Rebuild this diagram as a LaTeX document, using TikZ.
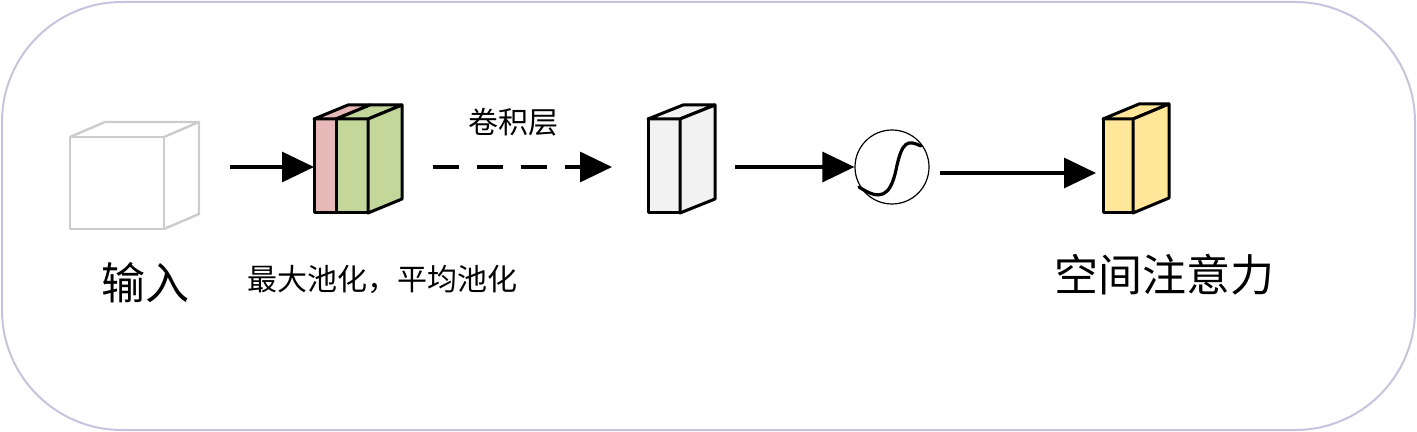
\documentclass[tikz,border=0pt]{standalone}
\usepackage{fontspec}
\newfontfamily\cjk{Noto Sans CJK SC}
\usetikzlibrary{arrows.meta}
\definecolor{framec}{HTML}{C9C2DD}
\definecolor{cubec}{HTML}{CCCCCC}
\definecolor{pinkc}{HTML}{E6B8B7}
\definecolor{greenc}{HTML}{C4D79B}
\definecolor{whitec}{HTML}{F2F2F2}
\definecolor{yellowc}{HTML}{FFE699}
\tikzset{
  blockline/.style={draw=black,line width=1.5pt,line join=round},
  flow/.style={line width=1.6pt,-{Triangle[length=16pt,width=15pt]}},
  lbl/.style={font=\cjk, inner sep=0pt},
}
\begin{document}
\begin{tikzpicture}[x=0.5pt,y=-0.5pt]
\useasboundingbox (0,0) rectangle (1417,432);
% frame
\draw[framec,line width=1pt,rounded corners=60pt] (2,2) rectangle (1415,430);
% input cube
\begin{scope}[cubec,line width=1.2pt,line join=round]
\draw (70,137) rectangle (164,229);
\draw (70,137) -- (105,122) -- (199,122) -- (164,137);
\draw (199,122) -- (199,214) -- (164,229);
\end{scope}
\coordinate (cubeE) at (230,167);
% pooling blocks
\filldraw[fill=pinkc,blockline] (314,119) rectangle (336,213);
\filldraw[fill=pinkc,blockline] (314,119) -- (348,105) -- (370,105) -- (336,119) -- cycle;
\filldraw[fill=greenc,blockline] (336,119) rectangle (368,213);
\filldraw[fill=greenc,blockline] (336,119) -- (370,105) -- (402,105) -- (368,119) -- cycle;
\filldraw[fill=greenc,blockline] (368,119) -- (402,105) -- (402,199) -- (368,213) -- cycle;
\coordinate (poolW) at (314,167);
\coordinate (poolE) at (433,167);
% conv output block
\filldraw[fill=whitec,blockline] (648,119) rectangle (680,213);
\filldraw[fill=whitec,blockline] (648,119) -- (683,105) -- (715,105) -- (680,119) -- cycle;
\filldraw[fill=whitec,blockline] (680,119) -- (715,105) -- (715,199) -- (680,213) -- cycle;
\coordinate (convW) at (612,167);
\coordinate (convE) at (735,167);
% sigmoid
\node[draw=black,line width=0.6pt,circle,minimum size=37pt,inner sep=0pt] (sig) at (892,167) {};
\draw[line width=1.6pt,line cap=round] (859,187) .. controls (880,201) and (890,197) .. (896,170)
  .. controls (902,140) and (908,140) .. (921,146);
\coordinate (sigE) at (940,173);
% yellow block
\filldraw[fill=yellowc,blockline] (1103,119) rectangle (1133,213);
\filldraw[fill=yellowc,blockline] (1103,119) -- (1139,104) -- (1169,104) -- (1133,119) -- cycle;
\filldraw[fill=yellowc,blockline] (1133,119) -- (1169,104) -- (1169,198) -- (1133,213) -- cycle;
\coordinate (yelW) at (1096,173);
% arrows
\draw[flow] (cubeE) -- (poolW);
\draw[flow,dash pattern=on 13pt off 9pt] (poolE) -- (convW);
\draw[flow] (convE) -- (sig.west);
\draw[flow] (sigE) -- (yelW);
% labels
\node[lbl,font=\cjk\fontsize{22pt}{24pt}\selectfont] (tin) at (145,283) {输入};
\node[lbl,font=\cjk\fontsize{15pt}{17pt}\selectfont] (tpool) at (382,280) {最大池化，平均池化};
\node[lbl,font=\cjk\fontsize{15pt}{17pt}\selectfont] (tconv) at (513,122) {卷积层};
\node[lbl,font=\cjk\fontsize{22pt}{24pt}\selectfont] (tout) at (1164,275) {空间注意力};
\end{tikzpicture}
\end{document}
